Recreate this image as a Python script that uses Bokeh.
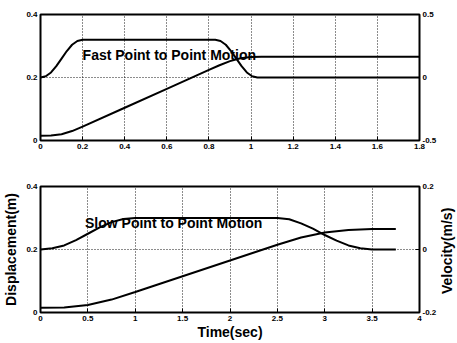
import numpy as np
from bokeh.plotting import figure
from bokeh.models import Range1d, LinearAxis, FixedTicker, Label
from bokeh.layouts import column, row
from bokeh.embed import file_html
from bokeh.resources import INLINE

# ---------------- data ----------------
# Fast point-to-point motion
fast_disp_t = [0, 0.05, 0.1, 0.15, 0.2, 0.4, 0.6, 0.8, 0.85, 0.9, 0.95, 1.0, 1.05, 1.8]
fast_disp = [0.015, 0.016, 0.02, 0.03, 0.044, 0.104, 0.164, 0.224, 0.239, 0.252, 0.261, 0.265, 0.266, 0.266]
fast_vel_t = [0, 0.025, 0.05, 0.075, 0.1, 0.125, 0.15, 0.175, 0.2, 0.83, 0.855, 0.88,
              0.905, 0.93, 0.955, 0.98, 1.005, 1.03, 1.8]
fast_vel = [0, 0.01, 0.04, 0.09, 0.15, 0.21, 0.26, 0.29, 0.3, 0.3, 0.29, 0.26,
            0.21, 0.15, 0.09, 0.04, 0.01, 0, 0]

# Slow point-to-point motion
slow_disp_t = [0, 0.25, 0.5, 0.75, 1.0, 1.5, 2.0, 2.5, 2.75, 3.0, 3.25, 3.5, 3.75]
slow_disp = [0.015, 0.016, 0.024, 0.041, 0.065, 0.115, 0.165, 0.215, 0.238, 0.254, 0.262, 0.265, 0.265]
slow_vel_t = [0, 0.125, 0.25, 0.375, 0.5, 0.625, 0.75, 0.875, 1.0, 2.5, 2.625, 2.75,
              2.875, 3.0, 3.125, 3.25, 3.375, 3.5, 3.75]
slow_vel = [0, 0.004, 0.013, 0.03, 0.05, 0.07, 0.087, 0.097, 0.1, 0.1, 0.096, 0.083,
            0.066, 0.046, 0.028, 0.013, 0.004, 0, 0]

# ticks
fast_xticks = [0, 0.2, 0.4, 0.6, 0.8, 1.0, 1.2, 1.4, 1.6, 1.8]
fast_xlabels = ["0", "0.2", "0.4", "0.6", "0.8", "1", "1.2", "1.4", "1.6", "1.8"]
slow_xticks = [0, 0.5, 1, 1.5, 2, 2.5, 3, 3.5, 4]
slow_xlabels = ["0", "0.5", "1", "1.5", "2", "2.5", "3", "3.5", "4"]
disp_ticks = [0, 0.2, 0.4]
disp_labels = ["0", "0.2", "0.4"]
fast_vel_ticks = [-0.5, 0, 0.5]
fast_vel_labels = ["-0.5", "0", "0.5"]
slow_vel_ticks = [-0.2, 0, 0.2]
slow_vel_labels = ["-0.2", "0", "0.2"]

FONT = "Liberation Sans"


def style_axis(ax, ticks, labels):
    ax.ticker = FixedTicker(ticks=ticks)
    ax.major_label_overrides = {float(t): l for t, l in zip(ticks, labels)}
    ax.major_label_text_font = FONT
    ax.major_label_text_font_style = "bold"
    ax.major_label_text_font_size = "8px"
    ax.major_label_text_color = "black"
    ax.major_label_standoff = 3
    ax.major_tick_in = 4
    ax.major_tick_out = 0
    ax.major_tick_line_color = "black"
    ax.minor_tick_line_color = None
    ax.axis_line_color = None
    ax.axis_label_text_font = FONT
    ax.axis_label_text_font_style = "bold"
    ax.axis_label_text_font_size = "14px"
    ax.axis_label_text_color = "black"


def make_panel(height, top, bottom, xmax, xticks, xlabels, vmax, vticks, vlabels,
               dt, d, vt, v):
    p = figure(width=440, height=height, x_range=Range1d(0, xmax), y_range=Range1d(0, 0.4),
               output_backend="svg", toolbar_location=None,
               min_border_left=37, min_border_right=21,
               min_border_top=top, min_border_bottom=bottom)
    p.extra_y_ranges = {"vel": Range1d(-vmax, vmax)}
    p.background_fill_color = "white"
    p.border_fill_color = "white"
    p.outline_line_color = "black"
    p.outline_line_width = 2
    style_axis(p.xaxis[0], xticks, xlabels)
    style_axis(p.yaxis[0], disp_ticks, disp_labels)
    r = LinearAxis(y_range_name="vel")
    style_axis(r, vticks, vlabels)
    p.add_layout(r, "right")
    for g in (p.xgrid[0], p.ygrid[0]):
        g.grid_line_color = "black"
        g.grid_line_dash = "1 2"
        g.grid_line_width = 1
        g.grid_line_alpha = 0.9
    p.line(dt, d, line_color="black", line_width=2)
    p.line(vt, v, line_color="black", line_width=2, y_range_name="vel")
    return p, r


p1, r1 = make_panel(170, 14, 30, 1.8, fast_xticks, fast_xlabels, 0.5, fast_vel_ticks, fast_vel_labels,
                    fast_disp_t, fast_disp, fast_vel_t, fast_vel)
p1.add_layout(Label(x=0.2, y=0.273, text="Fast Point to Point Motion", text_font=FONT,
                    text_font_style="bold", text_font_size="14px", text_color="black",
                    text_baseline="alphabetic", text_align="left"))

p2, r2 = make_panel(173, 16, 31, 4.0, slow_xticks, slow_xlabels, 0.2, slow_vel_ticks, slow_vel_labels,
                    slow_disp_t, slow_disp, slow_vel_t, slow_vel)
p2.add_layout(Label(x=0.47, y=0.285, text="Slow Point to Point Motion", text_font=FONT,
                    text_font_style="bold", text_font_size="14px", text_color="black",
                    text_baseline="alphabetic", text_align="left"))

p2.yaxis[0].axis_label = "Displacement(m)"
p2.yaxis[0].axis_label_standoff = 4
p2.xaxis[0].axis_label = "Time(sec)"
p2.xaxis[0].axis_label_standoff = 0

# narrow strip on the right that carries the right-hand axis title
p3 = figure(width=17, height=343, x_range=Range1d(0, 1), y_range=Range1d(0, 1),
            output_backend="svg", toolbar_location=None,
            min_border_left=0, min_border_right=0, min_border_top=0, min_border_bottom=0)
p3.axis.visible = False
p3.grid.visible = False
p3.outline_line_color = None
p3.background_fill_color = "white"
p3.border_fill_color = "white"
p3.add_layout(Label(x=0.41, y=0.27, text="Velocity(m/s)", text_font=FONT,
                    text_font_style="bold", text_font_size="14px", text_color="black",
                    angle=np.pi / 2, text_align="center", text_baseline="middle"))

layout = row(column(p1, p2, spacing=0), p3, spacing=0)
open("out.html", "w").write(file_html(layout, INLINE))
